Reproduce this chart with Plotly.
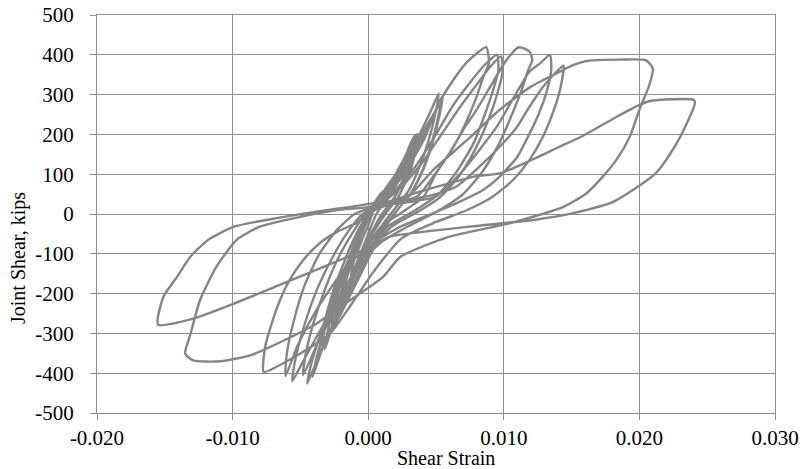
import plotly.graph_objects as go

# ---- tick labels ----
x_ticks = [-0.020, -0.010, 0.000, 0.010, 0.020, 0.030]
x_tick_text = ["-0.020", "-0.010", "0.000", "0.010", "0.020", "0.030"]
y_ticks = [-500, -400, -300, -200, -100, 0, 100, 200, 300, 400, 500]
y_tick_text = ["-500", "-400", "-300", "-200", "-100", "0", "100", "200", "300", "400", "500"]

x_title = "Shear Strain"
y_title = "Joint Shear, kips"

# ---- hysteresis cycles (shear strain, joint shear in kips) ----
c01_strain = [0.0000, 0.0005, 0.0010, 0.0008, 0.0004, 0.0000, -0.0004, -0.0008, -0.0006, -0.0002, 0.0002]
c01_shear = [0, 30, 55, 35, 10, -30, -60, -95, -60, -20, 10]

c02_strain = [0.0008, 0.0015, 0.0021, 0.0018, 0.0012, 0.0006, 0.0000, -0.0007, -0.0013, -0.0010, -0.0005, 0.0000, 0.0006]
c02_shear = [40, 75, 103, 70, 30, 0, -50, -110, -160, -110, -50, 0, 25]

c03_strain = [0.0015, 0.0025, 0.0032, 0.0036, 0.0034, 0.0028, 0.0020, 0.0012, 0.0004, -0.0004, -0.0013, -0.0022, -0.0019, -0.0012, -0.0005, 0.0002, 0.0008]
c03_shear = [70, 130, 175, 201, 160, 100, 45, 5, -40, -100, -170, -260, -200, -120, -50, 5, 30]

c04_strain = [0.0016, 0.0026, 0.0031, 0.0034, 0.0032, 0.0026, 0.0018, 0.0010, 0.0002, -0.0007, -0.0016, -0.0025, -0.0021, -0.0014, -0.0006, 0.0002, 0.0010]
c04_shear = [75, 135, 175, 196, 150, 90, 35, 0, -50, -115, -190, -275, -210, -130, -55, 5, 40]

c04b_strain = [0.0018, 0.0028, 0.0034, 0.0037, 0.0035, 0.0030, 0.0022, 0.0013, 0.0004, -0.0006, -0.0017, -0.0027, -0.0024, -0.0016, -0.0007, 0.0001, 0.0010]
c04b_shear = [80, 140, 182, 200, 158, 100, 42, 2, -45, -110, -195, -285, -220, -135, -55, 5, 35]

c05_strain = [0.0020, 0.0030, 0.0040, 0.0047, 0.0052, 0.0050, 0.0045, 0.0038, 0.0030, 0.0020, 0.0010, 0.0000, -0.0010, -0.0020, -0.0027, -0.0032, -0.0029, -0.0022, -0.0014, -0.0006, 0.0002, 0.0012]
c05_shear = [90, 150, 215, 265, 303, 260, 190, 120, 60, 15, -30, -100, -170, -240, -290, -340, -280, -190, -110, -40, 5, 40]

c06_strain = [0.0022, 0.0032, 0.0042, 0.0050, 0.0055, 0.0053, 0.0048, 0.0041, 0.0032, 0.0022, 0.0012, 0.0002, -0.0009, -0.0020, -0.0029, -0.0036, -0.0033, -0.0026, -0.0017, -0.0008, 0.0001, 0.0012]
c06_shear = [90, 150, 215, 262, 298, 255, 185, 115, 55, 12, -35, -100, -175, -250, -305, -350, -285, -195, -115, -45, 5, 35]

c07_strain = [0.0024, 0.0035, 0.0044, 0.0050, 0.0054, 0.0052, 0.0047, 0.0040, 0.0031, 0.0021, 0.0011, 0.0001, -0.0009, -0.0019, -0.0028, -0.0034, -0.0031, -0.0024, -0.0016, -0.0007, 0.0002, 0.0012]
c07_shear = [90, 155, 220, 262, 292, 250, 180, 110, 50, 8, -35, -100, -170, -240, -295, -330, -270, -185, -105, -40, 5, 30]

c08_strain = [0.0024, 0.0031, 0.0041, 0.0048, 0.0055, 0.0062, 0.0073, 0.0087, 0.0089, 0.0085, 0.0080, 0.0073, 0.0063, 0.0050, 0.0041, 0.0024, 0.0010, 0.0000, -0.0010, -0.0020, -0.0030, -0.0038, -0.0045, -0.0043, -0.0037, -0.0028, -0.0019, -0.0010, -0.0002, 0.0006]
c08_shear = [94, 128, 186, 245, 295, 333, 382, 419, 379, 345, 295, 237, 169, 102, 44, 2, -30, -80, -150, -230, -310, -370, -426, -390, -320, -230, -150, -80, -20, 15]

c09_strain = [0.0020, 0.0035, 0.0050, 0.0062, 0.0075, 0.0086, 0.0095, 0.0096, 0.0092, 0.0086, 0.0078, 0.0066, 0.0052, 0.0035, 0.0015, 0.0000, -0.0012, -0.0024, -0.0034, -0.0041, -0.0038, -0.0032, -0.0024, -0.0015, -0.0006, 0.0002, 0.0010]
c09_shear = [60, 120, 200, 270, 330, 375, 400, 360, 310, 250, 180, 110, 50, 10, -30, -90, -170, -260, -340, -409, -360, -290, -210, -130, -60, 0, 25]

c10_strain = [0.0025, 0.0040, 0.0055, 0.0068, 0.0080, 0.0090, 0.0098, 0.0099, 0.0095, 0.0089, 0.0080, 0.0068, 0.0054, 0.0038, 0.0018, 0.0002, -0.0012, -0.0026, -0.0038, -0.0048, -0.0046, -0.0040, -0.0032, -0.0022, -0.0012, -0.0002, 0.0010]
c10_shear = [70, 130, 205, 270, 325, 370, 396, 355, 300, 240, 170, 100, 45, 8, -30, -85, -160, -250, -330, -405, -350, -270, -190, -110, -50, 0, 20]

c11_strain = [0.0036, 0.0048, 0.0060, 0.0070, 0.0080, 0.0090, 0.0102, 0.0111, 0.0119, 0.0121, 0.0118, 0.0113, 0.0106, 0.0097, 0.0085, 0.0070, 0.0050, 0.0030, 0.0010, -0.0005, -0.0020, -0.0035, -0.0048, -0.0056, -0.0054, -0.0048, -0.0039, -0.0028, -0.0016, -0.0004, 0.0010]
c11_shear = [44, 94, 153, 211, 262, 320, 387, 419, 408, 387, 362, 310, 250, 180, 110, 50, 5, -30, -70, -120, -200, -290, -370, -420, -370, -290, -200, -120, -50, 0, 20]

c12_strain = [0.0030, 0.0050, 0.0068, 0.0082, 0.0095, 0.0105, 0.0112, 0.0119, 0.0127, 0.0134, 0.0135, 0.0132, 0.0126, 0.0118, 0.0110, 0.0097, 0.0085, 0.0070, 0.0050, 0.0025, 0.0000, -0.0020, -0.0038, -0.0052, -0.0061, -0.0060, -0.0055, -0.0047, -0.0036, -0.0023, -0.0010, 0.0002]
c12_shear = [30, 44, 102, 161, 220, 279, 320, 358, 379, 400, 362, 312, 253, 195, 144, 94, 61, 35, 5, -30, -80, -150, -240, -330, -407, -350, -270, -180, -100, -40, 0, 15]

c13_strain = [0.0030, 0.0050, 0.0065, 0.0082, 0.0097, 0.0110, 0.0119, 0.0129, 0.0139, 0.0144, 0.0142, 0.0137, 0.0129, 0.0119, 0.0107, 0.0092, 0.0073, 0.0050, 0.0025, 0.0005, -0.0012, -0.0028, -0.0045, -0.0060, -0.0077, -0.0076, -0.0072, -0.0065, -0.0058, -0.0048, -0.0036, -0.0023, -0.0009, 0.0005]
c13_shear = [35, 50, 69, 119, 169, 220, 270, 320, 358, 373, 320, 262, 195, 136, 86, 44, 10, -20, -60, -140, -225, -300, -340, -370, -397, -334, -284, -216, -166, -116, -74, -45, -23, 10]

c14_strain = [0.0030, 0.0048, 0.0073, 0.0097, 0.0120, 0.0141, 0.0151, 0.0162, 0.0186, 0.0205, 0.0210, 0.0207, 0.0200, 0.0193, 0.0183, 0.0173, 0.0161, 0.0144, 0.0105, 0.0060, 0.0024, 0.0011, -0.0013, -0.0038, -0.0063, -0.0087, -0.0109, -0.0129, -0.0135, -0.0131, -0.0124, -0.0112, -0.0097, -0.0080, -0.0050, -0.0023, 0.0001]
c14_shear = [45, 111, 186, 262, 320, 357, 374, 385, 388, 386, 365, 321, 262, 195, 136, 94, 52, 18, -23, -57, -107, -158, -216, -275, -319, -355, -370, -368, -351, -301, -216, -133, -65, -32, -7, 10, 18]

c15_strain = [0.0040, 0.0080, 0.0097, 0.0120, 0.0141, 0.0157, 0.0181, 0.0200, 0.0208, 0.0240, 0.0241, 0.0235, 0.0226, 0.0212, 0.0181, 0.0151, 0.0122, 0.0080, 0.0040, 0.0016, -0.0004, -0.0033, -0.0063, -0.0099, -0.0129, -0.0155, -0.0151, -0.0141, -0.0131, -0.0118, -0.0099, -0.0075, -0.0038, -0.0013, 0.0011]
c15_shear = [58, 95, 102, 135, 169, 194, 240, 274, 284, 287, 279, 228, 169, 102, 31, 2, -15, -30, -45, -57, -91, -133, -175, -225, -263, -278, -208, -158, -107, -65, -32, -15, 6, 18, 31]

cycles = [
    (c01_strain, c01_shear), (c02_strain, c02_shear), (c03_strain, c03_shear),
    (c04_strain, c04_shear), (c04b_strain, c04b_shear), (c05_strain, c05_shear),
    (c06_strain, c06_shear), (c07_strain, c07_shear), (c08_strain, c08_shear),
    (c09_strain, c09_shear), (c10_strain, c10_shear), (c11_strain, c11_shear),
    (c12_strain, c12_shear), (c13_strain, c13_shear), (c14_strain, c14_shear),
    (c15_strain, c15_shear),
]

strain = []
shear = []
for xs, ys in cycles:
    strain.extend(xs)
    shear.extend(ys)

LINE = "#858585"
GRID = "#8f8f8f"
FONT = "Liberation Serif"

fig = go.Figure()
fig.add_trace(go.Scatter(
    x=strain, y=shear, mode="lines",
    line=dict(color=LINE, width=2.4, shape="spline", smoothing=0.6),
    showlegend=False, hoverinfo="skip",
))

fig.update_layout(
    width=805, height=469,
    margin=dict(l=97, r=30, t=15, b=56),
    paper_bgcolor="white", plot_bgcolor="white",
    font=dict(family=FONT, color="black"),
    showlegend=False,
)
fig.update_xaxes(
    range=[-0.020, 0.030], tickvals=x_ticks, ticktext=x_tick_text,
    showgrid=True, gridcolor=GRID, gridwidth=1,
    zeroline=False, showline=True, linecolor=GRID, linewidth=1, mirror=True,
    ticks="outside", ticklen=6, tickcolor=GRID,
    tickfont=dict(family=FONT, size=21, color="black"),
    automargin=False,
)
fig.update_yaxes(
    range=[-500, 500], tickvals=y_ticks, ticktext=y_tick_text,
    showgrid=True, gridcolor=GRID, gridwidth=1,
    zeroline=False, showline=True, linecolor=GRID, linewidth=1, mirror=True,
    ticks="outside", ticklen=6, tickcolor=GRID,
    tickfont=dict(family=FONT, size=21, color="black"),
    ticklabelstandoff=12,
    automargin=False,
)

# axis titles (placed where the reference shows them)
fig.add_annotation(
    text=x_title, xref="paper", yref="paper", x=(446 - 97) / 678, y=0,
    xanchor="center", yanchor="middle", yshift=-45, showarrow=False,
    font=dict(family=FONT, size=20, color="black"),
)
fig.add_annotation(
    text=y_title, xref="paper", yref="paper", x=0, y=(413 - 258) / 398,
    xanchor="center", yanchor="middle", xshift=-79, textangle=-90, showarrow=False,
    font=dict(family=FONT, size=20, color="black"),
)

fig.write_html(
    "out.html",
    config={"displayModeBar": False},
    post_script="document.body.style.margin='0';document.body.style.overflow='hidden';",
)
